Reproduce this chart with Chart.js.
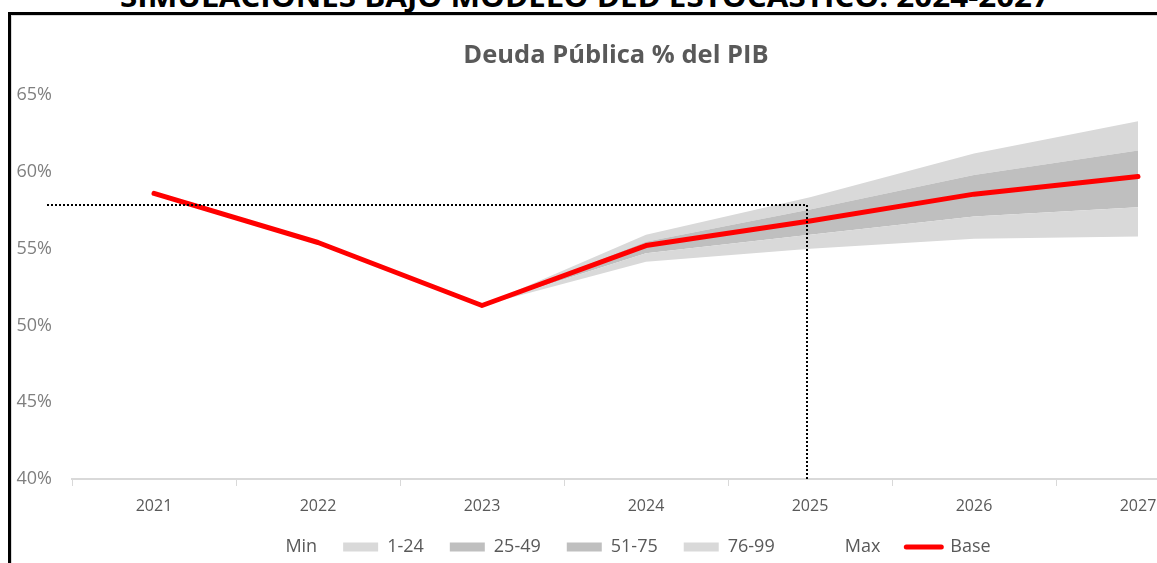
<!DOCTYPE html>
<html><head><meta charset="utf-8">
<script src="https://cdn.jsdelivr.net/npm/chart.js@4.4.1/dist/chart.umd.min.js"></script>
<style>
html,body{margin:0;padding:0;background:#fff;overflow:hidden;width:1157px;height:563px;position:relative;}
#top{position:absolute;left:120px;top:-23px;white-space:nowrap;font:bold 28px "Open Sans";color:#000;transform-origin:0 0;line-height:normal;}
#frame{position:absolute;left:8px;top:12px;width:1300px;height:600px;border-left:3px solid #000;border-top:3px solid #000;}
#inner{position:absolute;left:11px;top:15px;width:1300px;height:600px;border-left:1px solid #d9d9d9;border-top:1px solid #d9d9d9;}
#wrap{position:absolute;left:12px;top:17px;width:1222px;height:549px;}
</style></head>
<body>
<div id="top"><span id="topText">SIMULACIONES BAJO MODELO DED ESTOCÁSTICO: 2024-2027</span></div>
<div id="frame"></div>
<div id="inner"></div>
<div id="wrap"><canvas id="c"></canvas></div>
<script>
// ---- data ----
const years = ['2021','2022','2023','2024','2025','2026','2027'];
const base  = [58.6, 55.4, 51.3, 55.2, 56.8, 58.55, 59.7];
const pMin  = [null, null, 51.3, 54.15, 55.0, 55.65, 55.8];
const p25   = [null, null, 51.3, 54.7, 55.9, 57.1, 57.7];
const p50   = [null, null, 51.3, 55.2, 56.8, 58.55, 59.7];
const p75   = [null, null, 51.3, 55.45, 57.55, 59.8, 61.4];
const pMax  = [null, null, 51.3, 55.9, 58.35, 61.2, 63.3];
const yTicks = [40, 45, 50, 55, 60, 65];
const refLevel = 57.85;
const refYear = '2025';
const titleText = 'Deuda Pública % del PIB';

// fit the cropped heading
(function(){
  const sp = document.getElementById('topText');
  const w = sp.getBoundingClientRect().width;
  document.getElementById('top').style.transform = 'scaleX(' + (930 / w) + ')';
})();

const LIGHT = '#d9d9d9', DARK = '#bfbfbf', RED = '#ff0000', NONE = 'rgba(0,0,0,0)';

function band(label, data, color, fill) {
  return { label, data, legendColor: color, backgroundColor: color, borderColor: NONE,
           borderWidth: 0, pointRadius: 0, pointHoverRadius: 0, fill, spanGaps: false, order: 1 };
}

const refPlugin = {
  id: 'refLines',
  afterDatasetsDraw(chart) {
    const {ctx, chartArea, scales: {x, y}} = chart;
    const xv = x.getPixelForValue(years.indexOf(refYear)) - 3;
    const yv = y.getPixelForValue(refLevel);
    ctx.save();
    ctx.strokeStyle = '#000';
    ctx.lineWidth = 2;
    ctx.setLineDash([2, 2]);
    ctx.beginPath();
    ctx.moveTo(chartArea.left - 25, yv);
    ctx.lineTo(xv, yv);
    ctx.lineTo(xv, chartArea.bottom);
    ctx.stroke();
    ctx.restore();
  }
};

new Chart(document.getElementById('c'), {
  type: 'line',
  data: {
    labels: years,
    datasets: [
      band('Min', pMin, NONE, false),
      band('1-24', p25, LIGHT, '-1'),
      band('25-49', p50, DARK, '-1'),
      band('51-75', p75, DARK, '-1'),
      band('76-99', pMax, LIGHT, '-1'),
      band('Max', pMax, NONE, false),
      { label: 'Base', data: base, legendColor: RED, borderColor: RED, backgroundColor: RED,
        borderWidth: 5, pointRadius: 0, pointHoverRadius: 0, fill: false, tension: 0,
        borderJoinStyle: 'round', borderCapStyle: 'round', order: 0 }
    ]
  },
  options: {
    responsive: true,
    maintainAspectRatio: false,
    animation: false,
    events: [],
    layout: { padding: { left: 0, right: 14, top: 0, bottom: 0 } },
    plugins: {
      tooltip: { enabled: false },
      filler: { drawTime: 'beforeDatasetsDraw' },
      title: {
        display: true, text: titleText, color: '#595959',
        font: { family: '"Open Sans"', size: 25.5, weight: 'bold' },
        padding: { top: 23, bottom: 24.5 }
      },
      legend: {
        position: 'bottom',
        labels: {
          usePointStyle: true, pointStyleWidth: 35, boxHeight: 9,
          padding: 26, color: '#595959',
          font: { family: '"Open Sans"', size: 18 },
          generateLabels: (chart) => chart.data.datasets.map((ds, i) => ({
            text: ds.label, datasetIndex: i, hidden: false,
            fillStyle: ds.label === 'Base' ? NONE : ds.legendColor,
            strokeStyle: ds.legendColor,
            lineWidth: ds.label === 'Base' ? 5 : 0,
            lineCap: 'round',
            pointStyle: ds.label === 'Base' ? 'line' : 'rect',
            fontColor: '#595959'
          }))
        }
      }
    },
    scales: {
      x: {
        type: 'category', offset: true,
        grid: { display: true, drawOnChartArea: false, drawTicks: true, tickLength: 7, color: LIGHT, offset: true },
        border: { display: true, color: LIGHT, width: 2 },
        ticks: { color: '#595959', padding: 11, font: { family: '"Open Sans"', size: 16 }, maxRotation: 0 },
        afterFit: (s) => { s.height = 33; }
      },
      y: {
        min: 40, max: 65,
        grid: { display: false, drawTicks: false },
        border: { display: false },
        afterBuildTicks: (s) => { s.ticks = yTicks.map(v => ({ value: v })); },
        ticks: { color: '#7f7f7f', padding: 20, font: { family: '"Open Sans"', size: 18 },
                 callback: (v) => v + '%' },
        afterFit: (s) => { s.width = 60; }
      }
    }
  },
  plugins: [refPlugin]
});
</script>
</body></html>
